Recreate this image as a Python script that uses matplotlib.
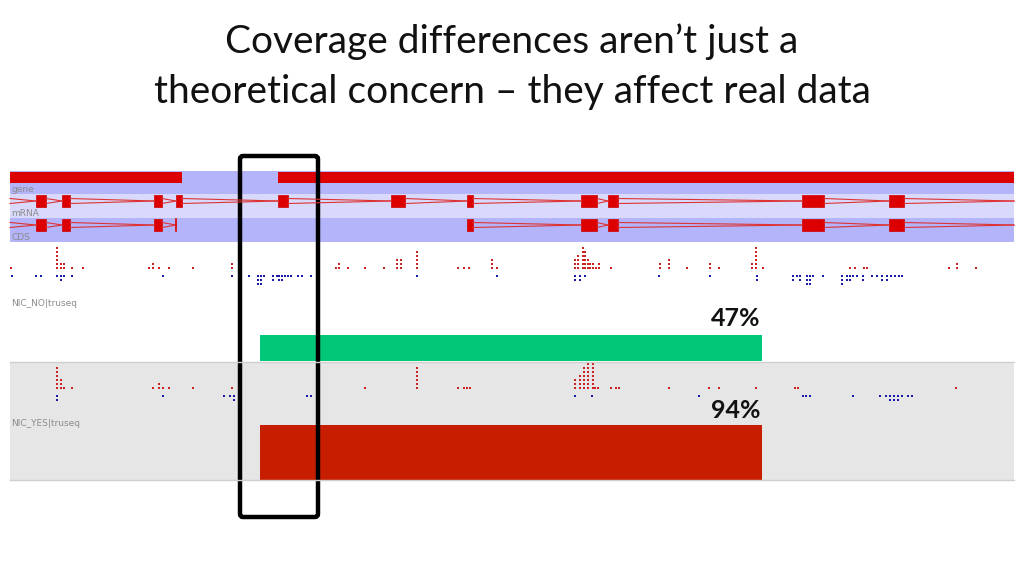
import matplotlib.pyplot as plt
from matplotlib.patches import FancyBboxPatch

title_lines = ["Coverage differences aren\u2019t just a",
               "theoretical concern \u2013 they affect real data"]

# genome browser coordinates (screen units along the locus)
gene_blocks = [(10, 182), (278, 1014)]
mrna_exons = [(36, 46), (62, 70), (154, 162), (176, 182), (278, 288), (391, 405),
              (467, 473), (581, 597), (608, 618), (802, 824), (889, 904)]
cds_exons = [(36, 46), (62, 70), (154, 162), (467, 473), (581, 597), (608, 618),
             (802, 824), (889, 904)]
cds_stop = 176

track_names = ["gene", "mRNA", "CDS"]
sample_names = ["NIC_NO|truseq", "NIC_YES|truseq"]

# reads as (position, stacked count)
no_fwd = [(11, 1), (57, 6), (61, 2), (64, 2), (72, 1), (83, 1), (149, 1), (153, 2),
          (159, 1), (169, 1), (193, 1), (232, 2), (336, 1), (339, 2), (348, 1),
          (365, 1), (384, 1), (397, 3), (401, 3), (417, 5), (458, 1), (464, 1),
          (469, 1), (492, 3), (497, 1), (575, 3), (578, 4), (583, 6), (585, 5),
          (588, 3), (590, 2), (593, 2), (596, 1), (599, 2), (611, 1), (660, 2),
          (669, 3), (687, 1), (710, 2), (719, 1), (752, 2), (756, 6), (763, 1),
          (850, 1), (855, 1), (864, 1), (867, 1), (949, 1), (957, 2), (976, 1)]
no_rev = [(12, 1), (36, 1), (41, 1), (57, 1), (61, 2), (64, 1), (72, 1), (163, 1),
          (232, 1), (249, 1), (258, 3), (261, 3), (264, 1), (273, 2), (277, 1),
          (279, 2), (282, 2), (285, 1), (288, 1), (291, 1), (298, 1), (302, 1),
          (311, 1), (417, 1), (497, 1), (575, 2), (580, 2), (585, 1), (659, 1),
          (710, 1), (757, 2), (793, 2), (797, 1), (800, 2), (807, 3), (810, 3),
          (813, 1), (823, 1), (842, 3), (847, 2), (850, 2), (853, 1), (857, 1),
          (863, 2), (872, 1), (877, 1), (882, 2), (887, 2), (891, 1), (895, 1),
          (899, 1), (902, 1)]
yes_fwd = [(57, 6), (61, 3), (64, 1), (72, 1), (153, 1), (159, 2), (163, 1),
           (169, 1), (193, 1), (232, 1), (365, 1), (417, 6), (458, 1), (464, 1),
           (467, 1), (470, 1), (575, 3), (580, 4), (584, 6), (588, 7), (593, 7),
           (595, 1), (598, 1), (611, 1), (616, 1), (619, 1), (669, 1), (709, 1),
           (719, 1), (756, 1), (795, 1), (798, 1), (956, 1)]
yes_rev = [(57, 2), (163, 1), (224, 1), (230, 1), (234, 2), (307, 1), (311, 1),
           (575, 1), (592, 1), (699, 1), (803, 1), (806, 1), (810, 1), (853, 1),
           (880, 1), (886, 1), (890, 2), (894, 2), (898, 2), (902, 1), (908, 1),
           (912, 1)]

coverage_span = (260, 762)
coverage_pct = [47, 94]
coverage_colors = ["#00c878", "#c81e00"]

fig = plt.figure(figsize=(10.24, 5.76), dpi=100)
ax = fig.add_axes([0, 0, 1, 1])
ax.set_xlim(0, 1024)
ax.set_ylim(576, 0)
ax.axis("off")

for i, line in enumerate(title_lines):
    ax.text(512, 42 + i * 50, line, ha="center", va="center", fontsize=28,
            family="Lato", color="#111111")

# annotation track backgrounds
ax.broken_barh([(10, 1004)], (171, 23), facecolors="#b4b4fa")
ax.broken_barh([(10, 1004)], (194, 24), facecolors="#d9d9fb")
ax.broken_barh([(10, 1004)], (218, 24), facecolors="#b4b4fa")
ax.broken_barh([(a, b - a) for a, b in gene_blocks], (172, 11), facecolors="#dd0000")


def draw_transcript(exons, yc, start, end):
    xs = [start] + [x for e in exons for x in e] + [end]
    for a, b in zip(xs[0::2], xs[1::2]):
        if b > a:
            ax.plot([a, b], [yc - 2.5, yc], color="#dd3333", lw=0.8)
            ax.plot([a, b], [yc + 2.5, yc], color="#dd3333", lw=0.8)
    ax.broken_barh([(a, b - a) for a, b in exons], (yc - 6, 12), facecolors="#dd0000",
                   edgecolors="#cc0000", lw=0.5)


draw_transcript(mrna_exons, 201, 10, 1014)
draw_transcript(cds_exons[:3], 225, 10, cds_stop)
ax.plot([cds_stop, cds_stop], [219, 231], color="#dd0000", lw=1.2)
draw_transcript(cds_exons[3:], 225, cds_exons[3][0], 1014)

for name, y in zip(track_names, [190, 214, 238]):
    ax.text(11, y, name, fontsize=6.5, color="#8c8c8c", va="center")

# sample tracks
ax.broken_barh([(10, 1004)], (362, 118), facecolors="#e6e6e6")
for y in (362, 480):
    ax.plot([10, 1014], [y, y], color="#cfcfcf", lw=1)


def draw_reads(reads, y0, step, color):
    xs, ys = [], []
    for x, n in reads:
        for k in range(n):
            xs.append(x)
            ys.append(y0 + step * k)
    ax.scatter(xs, ys, marker="s", s=4.2, color=color, linewidths=0)


draw_reads(no_fwd, 268, -4, "#cc2222")
draw_reads(no_rev, 276, 4, "#1a1aaa")
draw_reads(yes_fwd, 388, -4, "#cc2222")
draw_reads(yes_rev, 396, 4, "#1a1aaa")

for name, y in zip(sample_names, [303, 423]):
    ax.text(11, y, name, fontsize=6.5, color="#8c8c8c", va="center")

bar_rows = [(348, 26), (452.5, 55)]
label_y = [318, 410]
for (yc, h), pct, col, ly in zip(bar_rows, coverage_pct, coverage_colors, label_y):
    ax.barh(yc, coverage_span[1] - coverage_span[0], left=coverage_span[0], height=h,
            color=col)
    ax.text(coverage_span[1] - 2, ly, f"{pct}%", ha="right", va="center",
            fontsize=18, fontweight="bold", family="Lato", color="#111111")

# highlight box
ax.add_patch(FancyBboxPatch((240, 156), 78, 361, boxstyle="round,pad=0,rounding_size=3",
                            fill=False, edgecolor="black", lw=3.2))

fig.savefig("out.png", dpi=100)
